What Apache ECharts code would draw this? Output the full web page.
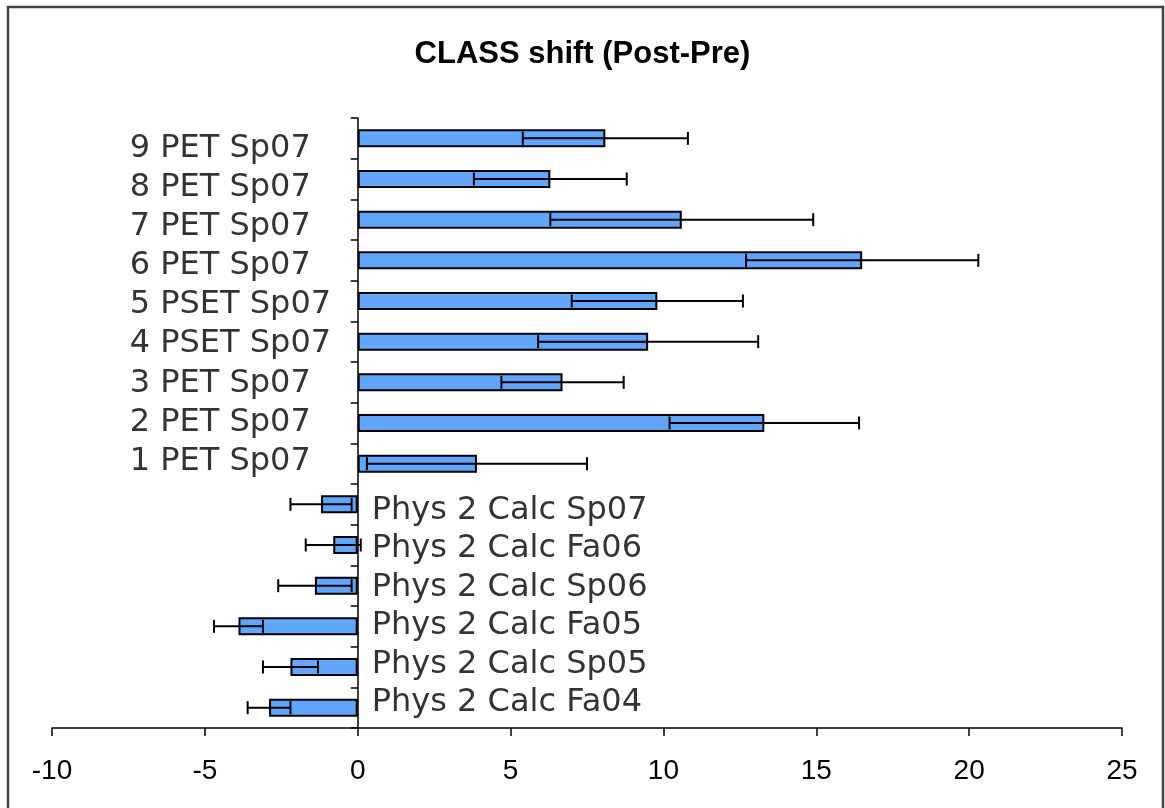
<!DOCTYPE html>
<html>
<head>
<meta charset="utf-8">
<script src="https://cdn.jsdelivr.net/npm/echarts@6/dist/echarts.min.js"></script>
<style>
  html, body { margin: 0; padding: 0; background: #fff; }
  #chart { width: 1165px; height: 808px; }
</style>
</head>
<body>
<div id="chart"></div>
<script>
// categories listed bottom -> top
var categories = [
  'Phys 2 Calc Fa04', 'Phys 2 Calc Sp05', 'Phys 2 Calc Fa05', 'Phys 2 Calc Sp06',
  'Phys 2 Calc Fa06', 'Phys 2 Calc Sp07', '1 PET Sp07', '2 PET Sp07', '3 PET Sp07',
  '4 PSET Sp07', '5 PSET Sp07', '6 PET Sp07', '7 PET Sp07', '8 PET Sp07', '9 PET Sp07'
]
var shifts = [-2.9, -2.2, -3.9, -1.4, -0.8, -1.2, 3.9, 13.3, 6.7, 9.5, 9.8, 16.5, 10.6, 6.3, 8.1]
var errors = [0.7, 0.9, 0.8, 1.2, 0.9, 1.0, 3.6, 3.1, 2.0, 3.6, 2.8, 3.8, 4.3, 2.5, 2.7]
var xTicks = { min: -10, max: 25, step: 5 }

var chart = echarts.init(document.getElementById('chart'))

var errData = shifts.map(function (v, i) {
  return [i, v - errors[i], v + errors[i]]
})

// name labels sit at the zero line, left of it for gains, right of it for losses.
// the text boxes in the original are spaced a bit tighter than the bars
var labelData = categories.map(function (name, i) {
  var pos = shifts[i] >= 0
  var dy = pos ? (i - 10) * 1.5 + 4 : (i - 2.5) * 2.2 + 0.5
  return {
    value: [0, i],
    label: {
      show: true,
      formatter: name,
      position: 'inside',
      align: 'left',
      color: '#000',
      offset: pos ? [-228, dy] : [14, dy]
    }
  }
})

chart.setOption({
  animation: false,
  title: {
    text: 'CLASS shift (Post-Pre)',
    left: 'center',
    top: 34,
    textStyle: {
      fontFamily: 'Liberation Sans',
      fontWeight: 'bold',
      fontSize: 31,
      color: '#000'
    }
  },
  graphic: [{
    type: 'rect',
    shape: { x: 8, y: 7, width: 1155, height: 830 },
    style: { fill: 'none', stroke: '#444', lineWidth: 2.5 },
    silent: true
  }],
  grid: {
    left: 52,
    right: 43,
    top: 118,
    bottom: 80
  },
  xAxis: {
    type: 'value',
    min: xTicks.min,
    max: xTicks.max,
    interval: xTicks.step,
    splitLine: { show: false },
    axisLine: { show: true, onZero: false, lineStyle: { color: '#000', width: 1.5 } },
    axisTick: { show: true, length: 8, lineStyle: { color: '#000', width: 1.5 } },
    axisLabel: {
      margin: 29,
      color: '#000',
      fontFamily: 'Liberation Sans',
      fontSize: 28
    }
  },
  yAxis: {
    type: 'category',
    data: categories,
    axisLine: { show: true, onZero: true, lineStyle: { color: '#000', width: 1.5 } },
    axisTick: { show: true, length: 7, lineStyle: { color: '#000', width: 1.5 } },
    axisLabel: { show: false },
    splitLine: { show: false }
  },
  series: [
    {
      type: 'bar',
      data: shifts,
      barWidth: 18,
      itemStyle: {
        color: '#62a6fc',
        borderColor: '#000',
        borderWidth: 2
      },
      z: 2
    },
    {
      type: 'custom',
      data: errData,
      encode: { y: 0, x: [1, 2] },
      z: 3,
      renderItem: function (params, api) {
        var cat = api.value(0)
        var p1 = api.coord([api.value(1), cat])
        var p2 = api.coord([api.value(2), cat])
        var h = 6.5
        var st = { stroke: '#000', lineWidth: 2 }
        return {
          type: 'group',
          children: [
            { type: 'line', shape: { x1: p1[0], y1: p1[1], x2: p2[0], y2: p2[1] }, style: st },
            { type: 'line', shape: { x1: p1[0], y1: p1[1] - h, x2: p1[0], y2: p1[1] + h }, style: st },
            { type: 'line', shape: { x1: p2[0], y1: p2[1] - h, x2: p2[0], y2: p2[1] + h }, style: st }
          ]
        }
      }
    },
    {
      type: 'scatter',
      symbolSize: 0,
      data: labelData,
      silent: true,
      z: 4,
      label: {
        color: '#000',
        fontFamily: 'DejaVu Sans',
        fontSize: 32
      }
    }
  ]
})
</script>
</body>
</html>
